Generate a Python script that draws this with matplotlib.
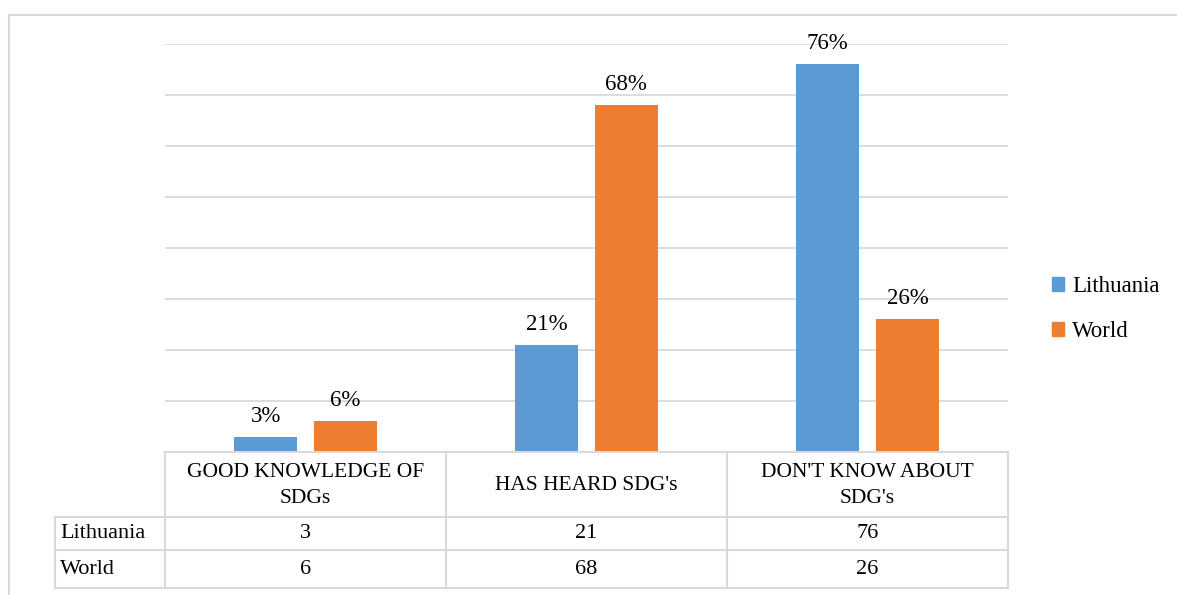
import numpy as np
import matplotlib.pyplot as plt
from matplotlib.patches import Patch

plt.rcParams['font.family'] = ['Liberation Serif', 'DejaVu Serif']

categories = ["GOOD KNOWLEDGE OF\nSDGs", "HAS HEARD SDG's", "DON'T KNOW ABOUT\nSDG's"]
series_names = ["Lithuania", "World"]
lithuania = [3, 21, 76]
world = [6, 68, 26]
colors = ["#5B9BD5", "#ED7D31"]
grid_col = "#d9d9d9"

W, H = 1177, 595
fig = plt.figure(figsize=(W / 100, H / 100), dpi=100)

# plot area in pixels
x0, x1, y_top, y_base = 165, 1008, 44, 452
ax = fig.add_axes([x0 / W, (H - y_base) / H, (x1 - x0) / W, (y_base - y_top) / H])

n = len(categories)
x = np.arange(n)
bw = 0.224
off = 0.142
for vals, c, sgn in [(lithuania, colors[0], -1), (world, colors[1], 1)]:
    bars = ax.bar(x + sgn * off, vals, bw, color=c, zorder=3)
    for b, v in zip(bars, vals):
        ax.text(b.get_x() + b.get_width() / 2, v + 2.0, f"{v}%", ha='center', va='bottom',
                fontsize=16.5, color='#000000', zorder=4)

ax.set_xlim(-0.5, n - 0.5)
ax.set_ylim(0, 80)
ax.set_yticks(np.arange(0, 81, 10))
ax.yaxis.grid(True, color=grid_col, lw=1.3)
ax.set_axisbelow(True)
ax.tick_params(left=False, bottom=False, labelleft=False, labelbottom=False)
for s in ax.spines.values():
    s.set_visible(False)

# data table drawn below the axes (pixel-based figure coords)
def fx(px):
    return px / W

def fy(py):
    return (H - py) / H

col_edges = [x0 + (x1 - x0) * i / n for i in range(n + 1)]
label_left = 55
row_edges = [452, 517, 550, 588]
lk = dict(color=grid_col, lw=1.5, transform=fig.transFigure)
# horizontal lines
fig.add_artist(plt.Line2D([fx(x0), fx(x1)], [fy(row_edges[0])] * 2, **lk))
for ry in row_edges[1:]:
    fig.add_artist(plt.Line2D([fx(label_left), fx(x1)], [fy(ry)] * 2, **lk))
# vertical lines
for cx in col_edges:
    fig.add_artist(plt.Line2D([fx(cx)] * 2, [fy(row_edges[0]), fy(row_edges[-1])], **lk))
fig.add_artist(plt.Line2D([fx(label_left)] * 2, [fy(row_edges[1]), fy(row_edges[-1])], **lk))

for i, cat in enumerate(categories):
    cx = (col_edges[i] + col_edges[i + 1]) / 2
    fig.text(fx(cx), fy((row_edges[0] + row_edges[1]) / 2 + 1), cat, ha='center', va='center',
             fontsize=15.5, linespacing=1.5)
for r, (name, vals) in enumerate(zip(series_names, [lithuania, world])):
    cy = (row_edges[r + 1] + row_edges[r + 2]) / 2
    fig.text(fx(label_left + 5), fy(cy), name, ha='left', va='center', fontsize=16)
    for i, v in enumerate(vals):
        cx = (col_edges[i] + col_edges[i + 1]) / 2
        fig.text(fx(cx), fy(cy), str(v), ha='center', va='center', fontsize=16)

# legend
handles = [Patch(color=c, label=s) for c, s in zip(colors, series_names)]
fig.legend(handles=handles, loc='center left', bbox_to_anchor=(fx(1031), fy(309)),
           frameon=False, fontsize=16.5, handlelength=0.55, handleheight=0.55,
           handletextpad=0.35, labelspacing=1.05)

# outer chart border
fig.add_artist(plt.Line2D([fx(9), fx(9)], [fy(15), 0], **lk))
fig.add_artist(plt.Line2D([fx(9), 1], [fy(15), fy(15)], **lk))

fig.savefig("out.png", dpi=100, facecolor='white')
